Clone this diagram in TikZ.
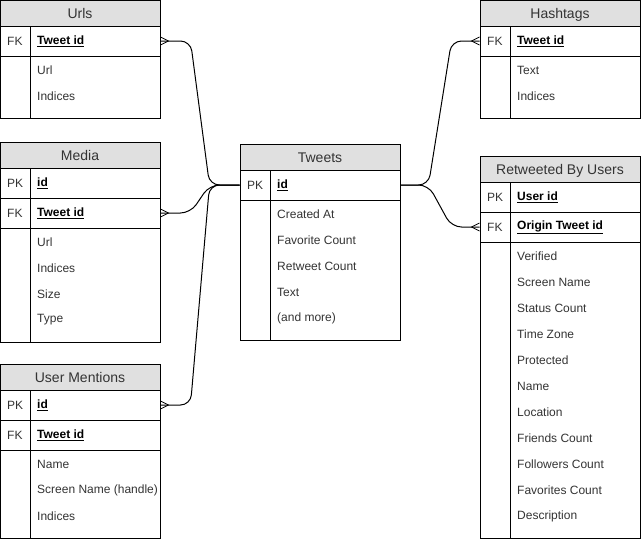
\documentclass[tikz,border=0pt]{standalone}
\usepackage{fontspec}
\setmainfont{Liberation Sans}
\definecolor{headgray}{HTML}{E0E0E0}
\definecolor{txt}{HTML}{333333}
\newcommand{\keyname}[1]{\textcolor{black}{\underline{\textbf{#1}}}}

\begin{document}
\begin{tikzpicture}[x=1pt,y=-1pt,
  box/.style={draw,line width=1pt},
  head/.style={draw,line width=1pt,fill=headgray,minimum width=160pt,minimum height=26pt,inner sep=0pt,text height=11pt,text depth=0pt,font=\fontsize{14}{16}\selectfont,text=txt},
  keyrow/.style={draw,line width=1pt,minimum width=160pt,minimum height=30pt,inner sep=0pt},
  lbl/.style={anchor=west,inner sep=0pt,font=\fontsize{12}{14}\selectfont,text=txt},
  link/.style={line width=1pt,rounded corners=10pt},
  foot/.style={line width=0.8pt}]
\useasboundingbox (0,0) rectangle (641,539);

% Urls
\draw[box] (0,0) rectangle (160,118);
\node[head] (urls) at (80,13) {Urls};
\node[keyrow] (urls-tid) at (80,41) {};
\draw[box] (30,26) -- (30,118);
\node[lbl] at (7,41) {FK};
\node[lbl] at (37,41) {\keyname{Tweet id}};
\foreach \f [count=\i] in {Url,Indices}
    \node[lbl] at (37,44+26*\i) {\f};

% Media
\draw[box] (0,142) rectangle (160,342);
\node[head] (media) at (80,155) {Media};
\node[keyrow] (media-id) at (80,183) {};
\node[keyrow] (media-tid) at (80,213) {};
\draw[box] (30,168) -- (30,342);
\node[lbl] at (7,183) {PK};
\node[lbl] at (37,183) {\keyname{id}};
\node[lbl] at (7,213) {FK};
\node[lbl] at (37,213) {\keyname{Tweet id}};
\foreach \f [count=\i] in {Url,Indices,Size,Type}
    \node[lbl] at (37,216+26*\i) {\f};

% User Mentions
\draw[box] (0,364) rectangle (160,538);
\node[head] (ment) at (80,377) {User Mentions};
\node[keyrow] (ment-id) at (80,405) {};
\node[keyrow] (ment-tid) at (80,435) {};
\draw[box] (30,390) -- (30,538);
\node[lbl] at (7,405) {PK};
\node[lbl] at (37,405) {\keyname{id}};
\node[lbl] at (7,435) {FK};
\node[lbl] at (37,435) {\keyname{Tweet id}};
\begin{scope}
\clip (31,451) rectangle (159.5,537);
\foreach \f [count=\i] in {Name,Screen Name (handle),Indices}
    \node[lbl] at (37,438+26*\i) {\f};
\end{scope}

% Tweets
\draw[box] (240,144) rectangle (400,340);
\node[head] (tweets) at (320,157) {Tweets};
\node[keyrow] (tweets-id) at (320,185) {};
\draw[box] (270,170) -- (270,340);
\node[lbl] at (247,185) {PK};
\node[lbl] at (277,185) {\keyname{id}};
\foreach \f [count=\i] in {Created At,Favorite Count,Retweet Count,Text,(and more)}
    \node[lbl] at (277,188+26*\i) {\f};

% Hashtags
\draw[box] (480,0) rectangle (640,118);
\node[head] (hash) at (560,13) {Hashtags};
\node[keyrow] (hash-tid) at (560,41) {};
\draw[box] (510,26) -- (510,118);
\node[lbl] at (487,41) {FK};
\node[lbl] at (517,41) {\keyname{Tweet id}};
\foreach \f [count=\i] in {Text,Indices}
    \node[lbl] at (517,44+26*\i) {\f};

% Retweeted By Users
\draw[box] (480,156) rectangle (640,538);
\node[head] (rtu) at (560,169) {Retweeted By Users};
\node[keyrow] (rtu-uid) at (560,197) {};
\node[keyrow] (rtu-otid) at (560,227) {};
\draw[box] (510,182) -- (510,538);
\node[lbl] at (487,197) {PK};
\node[lbl] at (517,197) {\keyname{User id}};
\node[lbl] at (487,227) {FK};
\node[lbl] at (517,227) {\keyname{Origin Tweet id}};
\foreach \f [count=\i] in {Verified,Screen Name,Status Count,Time Zone,Protected,Name,Location,Friends Count,Followers Count,Favorites Count,Description}
    \node[lbl] at (517,230+26*\i) {\f};

% relations
\foreach \n in {urls-tid,media-tid,ment-id} {
    \draw[link] (\n.east) -- ++(30,0) -- ([xshift=-30pt]tweets-id.west) -- (tweets-id.west);
    \draw[foot] ([yshift=4pt]\n.east) -- ++(8,4) -- ++(-8,4);
}
\foreach \n in {hash-tid,rtu-otid} {
    \draw[link] (tweets-id.east) -- ++(28,0) -- ([xshift=-28pt]\n.west) -- (\n.west);
    \draw[foot] ([yshift=4pt]\n.west) -- ++(-8,4) -- ++(8,4);
}
\end{tikzpicture}
\end{document}
